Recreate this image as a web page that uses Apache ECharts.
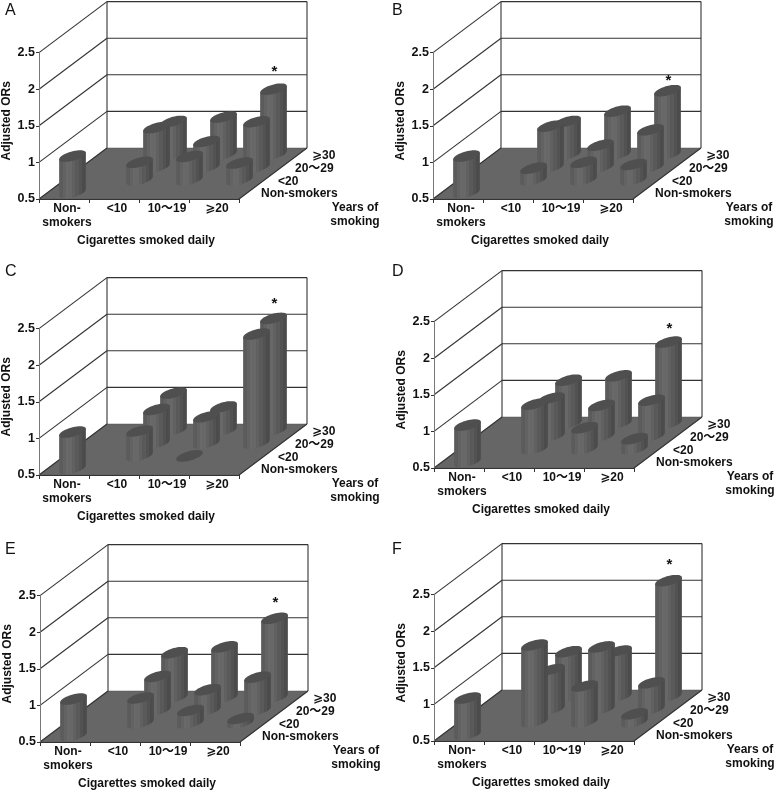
<!DOCTYPE html>
<html><head><meta charset="utf-8">
<style>html,body{margin:0;padding:0;background:#fff}#c{width:777px;height:790px}</style>
<script src="https://cdn.jsdelivr.net/npm/echarts@6/dist/echarts.min.js"></script>
</head><body><div id="c"></div>
<script>
// ---- data ----
const cigaretteCategories = ['Non-\nsmokers', '<10', '10～19', '⩾20'];
const yearCategories = ['Non-smokers', '<20', '20～29', '⩾30'];
const yTicks = [0.5, 1, 1.5, 2, 2.5];
const panelLetters = ['A', 'B', 'C', 'D', 'E', 'F'];
const nonSmokerOR = [1.0, 1.0, 1.0, 1.0, 1.0, 1.0];
// rows: <20, 20-29, >=30 years; columns: <10, 10-19, >=20 cigarettes
const orA = [[0.74, 0.82, 0.73], [1.04, 0.85, 1.12], [0.95, 1.01, 1.39]];
const orB = [[0.66, 0.74, 0.71], [1.06, 0.80, 1.01], [0.95, 1.09, 1.37]];
const orC = [[0.84, 0.50, null], [0.96, 0.86, 1.99], [1.01, 0.82, 2.03]];
const orD = [[1.11, 0.79, 0.64], [1.02, 0.92, 0.99], [1.09, 1.15, 1.61]];
const orE = [[0.84, 0.67, 0.56], [0.96, 0.78, 0.95], [1.11, 1.19, 1.58]];
const orF = [[1.55, 0.99, 0.61], [1.04, 1.35, 0.86], [1.11, 1.12, 2.08]];
const panelValues = [orA, orB, orC, orD, orE, orF];

// ---- layout ----
const origins = [[39, 199], [433, 199], [39, 475], [434, 468], [40, 742], [434, 741]];
const letterPos = [[5, 3], [392, 3], [5, 264], [392, 264], [5, 542], [392, 542]];
const starGaps = [20, 13, 18, 16, 18, 19];
const W = 200, H = 146.4, DX = 17, DY = 12.75;
const FONT = '"Liberation Sans","DejaVu Sans","Noto Sans CJK SC",sans-serif';
const LINE = '#333333', TXT = '#111';

const bandStops = (() => {
  const out = [], n = 15;
  for (let i = 0; i < n; i++) {
    const t = (i + 0.5) / n;
    const base = t < 0.35 ? 88 + (t / 0.35) * 18 : 106 - ((t - 0.35) / 0.65) * 34;
    const g = Math.round(base + (i % 2 ? -2 : 2));
    const c = `rgb(${g},${g},${g})`;
    out.push({ offset: i / n, color: c }, { offset: (i + 1) / n, color: c });
  }
  return out;
})();

function frameItem(params, api) {
  const band = api.size([1, 0])[0];
  const base = api.coord([0, yTicks[0]]);
  const x0 = base[0] - band / 2, y0 = base[1];
  const bx = DX * yearCategories.length, by = DY * yearCategories.length;
  const ch = [];
  ch.push({ type: 'polygon', shape: { points: [[x0, y0], [x0 + W, y0], [x0 + W + bx, y0 - by], [x0 + bx, y0 - by]] },
    style: { fill: '#666666', stroke: '#555', lineWidth: 0.5 } });
  const line = (a, b, w) => ch.push({ type: 'line', shape: { x1: a[0], y1: a[1], x2: b[0], y2: b[1] }, style: { stroke: LINE, lineWidth: w || 1.1 } });
  yTicks.forEach(v => {
    const y = api.coord([0, v])[1];
    line([x0, y], [x0 + bx, y - by]);
    if (v !== yTicks[0]) line([x0 + bx, y - by], [x0 + W + bx, y - by]);
  });
  const topY = api.coord([0, yTicks[yTicks.length - 1]])[1];
  line([x0 + bx, topY - by], [x0 + bx, y0 - by]);
  line([x0 + W + bx, topY - by], [x0 + W + bx, y0 - by]);
  line([x0 + W, y0], [x0 + W + bx, y0 - by]);
  yearCategories.forEach((s, j) => {
    ch.push({ type: 'text', style: { text: s, x: x0 + W + 22 + DX * j, y: y0 - 5 - DY * j, font: 'bold 12px ' + FONT, fill: TXT, textAlign: 'left', textVerticalAlign: 'middle' } });
  });
  ch.push({ type: 'text', style: { text: 'Years of\nsmoking', x: x0 + 316, y: y0 + 16, font: 'bold 12px ' + FONT, lineHeight: 14, fill: TXT, textAlign: 'center', textVerticalAlign: 'middle' } });
  return { type: 'group', children: ch };
}

function barItem(gap) {
  return function (params, api) {
    const col = api.value(0), row = api.value(1), v = api.value(2), star = api.value(3);
    const t = api.coord([col, v]), b = api.coord([col, yTicks[0]]);
    const ox = (row + 0.5) * DX, oy = (row + 0.5) * DY;
    const cx = t[0] + ox, topY = t[1] - oy, baseY = b[1] - oy;
    const R = 11, ex = 7.6, ey = 5.8;
    const t0 = Math.atan2(ex, R);
    const P = (a, cy) => [cx + R * Math.cos(a) + ex * Math.sin(a), cy - ey * Math.sin(a)];
    const body = [P(t0, topY), P(t0 + Math.PI, topY)];
    for (let i = 0; i <= 24; i++) body.push(P(t0 + Math.PI + Math.PI * i / 24, baseY));
    const top = [];
    for (let i = 0; i < 48; i++) top.push(P(2 * Math.PI * i / 48, topY));
    const ch = [];
    if (v > yTicks[0]) {
      ch.push({ type: 'polygon', shape: { points: body }, style: { fill: { type: 'linear', x: 0, y: 0, x2: 1, y2: 0, colorStops: bandStops } } });
    }
    ch.push({ type: 'polygon', shape: { points: top }, style: { fill: '#4f4f4f' } });
    if (star) ch.push({ type: 'text', style: { text: '*', x: cx + 1, y: topY - gap + 3, font: 'bold 15px ' + FONT, fill: TXT, textAlign: 'center', textVerticalAlign: 'middle' } });
    return { type: 'group', children: ch };
  };
}

function panelData(i) {
  const vals = panelValues[i], out = [];
  for (let r = vals.length - 1; r >= 0; r--) {
    vals[r].forEach((v, c) => {
      if (v !== null) out.push([c + 1, r + 1, v, (r === 2 && c === 2) ? 1 : 0]);
    });
  }
  out.push([0, 0, nonSmokerOR[i], 0]);
  return out;
}

const grid = [], xAxis = [], yAxis = [], series = [], title = [];
origins.forEach((o, i) => {
  grid.push({ left: o[0], top: o[1] - H, width: W, height: H, containLabel: false, outerBoundsMode: 'none' });
  xAxis.push({
    gridIndex: i, type: 'category', data: cigaretteCategories, z: 5,
    axisLine: { lineStyle: { color: LINE, width: 1.1 } },
    axisTick: { show: true, length: 4, inside: false, lineStyle: { color: LINE } },
    axisLabel: { interval: 0, margin: 3, lineHeight: 14, padding: [0, 0, 0, 6], color: TXT, fontFamily: FONT, fontWeight: 'bold', fontSize: 12 },
    name: 'Cigarettes smoked daily', nameLocation: 'middle', nameGap: 36,
    nameTextStyle: { color: TXT, fontFamily: FONT, fontWeight: 'bold', fontSize: 12, padding: [0, 0, 0, 14] }
  });
  yAxis.push({
    gridIndex: i, type: 'value', min: yTicks[0], max: yTicks[yTicks.length - 1], interval: 0.5, z: 5,
    splitLine: { show: false },
    axisLine: { show: true, lineStyle: { color: '#777', width: 1 } },
    axisTick: { show: true, length: 3, lineStyle: { color: LINE } },
    axisLabel: { margin: 4, color: TXT, fontFamily: FONT, fontWeight: 'bold', fontSize: 12.5 },
    name: 'Adjusted ORs', nameLocation: 'middle', nameGap: 26,
    nameTextStyle: { color: TXT, fontFamily: FONT, fontWeight: 'bold', fontSize: 12, padding: [0, 0, 0, 10] }
  });
  series.push({ type: 'custom', xAxisIndex: i, yAxisIndex: i, z: 1, silent: true, renderItem: frameItem, data: [[0, yTicks[0]]], encode: { x: 0, y: 1 } });
  series.push({ type: 'custom', xAxisIndex: i, yAxisIndex: i, z: 3, silent: true, renderItem: barItem(starGaps[i]), data: panelData(i), encode: { x: 0, y: 2 } });
  title.push({ text: panelLetters[i], left: letterPos[i][0], top: letterPos[i][1], padding: 0, textStyle: { fontFamily: FONT, fontWeight: 'normal', fontSize: 16, color: TXT } });
});

const chart = echarts.init(document.getElementById('c'), null, { renderer: 'canvas', width: 777, height: 790 });
chart.setOption({ animation: false, backgroundColor: '#fff', title, grid, xAxis, yAxis, series });
</script>
</body></html>
